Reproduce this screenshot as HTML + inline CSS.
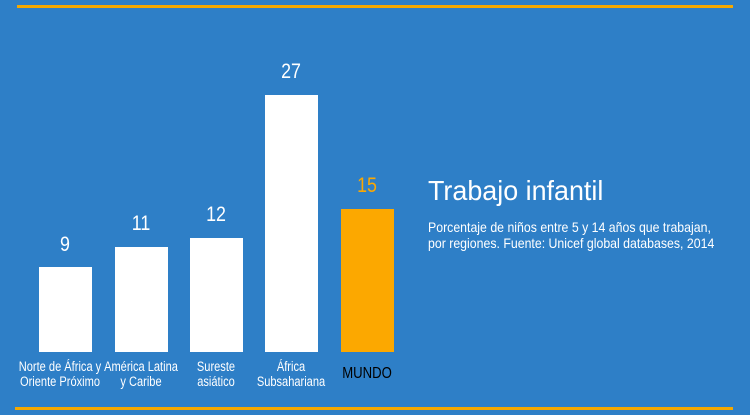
<!DOCTYPE html>
<html><head><meta charset="utf-8"><style>
body{margin:0;width:750px;height:415px;background:#2e7fc7;position:relative;overflow:hidden;font-family:"Liberation Sans",sans-serif;color:#fff}
.l{position:absolute;background:#f5a800;height:3px}
.b{position:absolute;width:53px;background:#fff;bottom:63px}
.v{position:absolute;width:80px;text-align:center;font-size:21px;transform:scaleX(.85)}
.t{position:absolute;width:120px;text-align:center;font-size:13.5px;line-height:15px;top:359px;transform:scaleX(.82);white-space:nowrap}
</style></head><body>
<div class="l" style="left:17px;width:716px;top:5px"></div>
<div class="l" style="left:15px;width:718px;top:407px"></div>
<div class="b" style="left:39px;top:267px"></div>
<div class="b" style="left:115px;top:247px"></div>
<div class="b" style="left:190px;top:238px"></div>
<div class="b" style="left:265px;top:95px"></div>
<div class="b" style="left:341px;top:209px;background:#fca800"></div>
<div class="v" style="left:25px;top:233px">9</div>
<div class="v" style="left:101px;top:212px">11</div>
<div class="v" style="left:176px;top:203px">12</div>
<div class="v" style="left:251px;top:60px">27</div>
<div class="v" style="left:327px;top:174px;color:#fca800">15</div>
<div class="t" style="left:0px">Norte de África y<br>Oriente Próximo</div>
<div class="t" style="left:81px">América Latina<br>y Caribe</div>
<div class="t" style="left:156px">Sureste<br>asiático</div>
<div class="t" style="left:231px">África<br>Subsahariana</div>
<div class="t" style="left:307px;top:366px;color:#000;font-size:16px">MUNDO</div>
<div style="position:absolute;left:428px;top:175px;font-size:28px;transform:scaleX(.96);transform-origin:left;white-space:nowrap">Trabajo infantil</div>
<div style="position:absolute;left:428px;top:219px;font-size:14px;line-height:16px;transform:scaleX(.88);transform-origin:left;white-space:nowrap">Porcentaje de niños entre 5 y 14 años que trabajan,<br>por regiones. Fuente: Unicef global databases, 2014</div>
</body></html>
